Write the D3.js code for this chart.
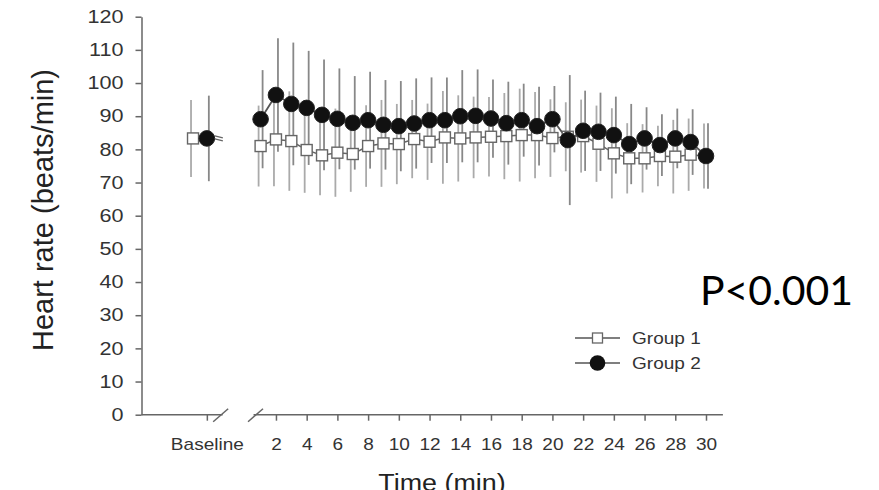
<!DOCTYPE html>
<html>
<head>
<meta charset="utf-8">
<script src="https://cdn.jsdelivr.net/npm/d3@7"></script>
<style>
    body { margin: 0; background: #fff; }
    svg { display: block; }
    .axis path, .axis line { stroke: #666; stroke-width: 1.5px; }
    .axis text { font-family: "Liberation Sans", Arial, sans-serif; font-size: 17px; fill: #333; }
</style>
</head>
<body>
<script>
    // time points (min) and group means / SD
    const times = [1, 2, 3, 4, 5, 6, 7, 8, 9, 10, 11, 12, 13, 14, 15, 16, 17, 18, 19, 20,
        21, 22, 23, 24, 25, 26, 27, 28, 29, 30];
    const group1 = [81.0, 83.0, 82.5, 79.8, 78.2, 79.0, 78.6, 81.0, 81.8, 81.6, 83.1, 82.3, 83.6, 83.3, 83.6,
        83.8, 84.0, 84.3, 84.3, 83.4, 83.8, 84.0, 81.7, 78.8, 77.3, 77.3, 78.0, 77.8, 78.4, 78.0];
    const group1SD = [12.2, 14.1, 15.0, 12.9, 12.0, 13.3, 11.4, 12.3, 13.1, 12.1, 11.8, 11.5, 14.0, 13.0, 12.3,
        12.0, 13.0, 14.0, 13.0, 11.7, 10.4, 11.0, 11.5, 13.6, 10.6, 10.3, 9.1, 11.1, 10.9, 9.8];
    const group2 = [89.1, 96.4, 93.7, 92.5, 90.4, 89.2, 88.0, 88.8, 87.4, 87.0, 87.8, 88.8, 88.8, 90.0, 90.1,
        89.3, 87.9, 88.8, 87.0, 89.1, 82.8, 85.6, 85.3, 84.3, 81.6, 83.3, 81.3, 83.3, 82.2, 78.0];
    const group2SD = [14.8, 17.1, 18.5, 17.2, 16.7, 15.2, 14.1, 14.6, 13.5, 13.6, 13.6, 12.9, 12.9, 13.9, 14.0,
        11.8, 12.5, 11.0, 11.9, 10.0, 19.6, 12.1, 11.8, 11.6, 12.1, 9.4, 9.3, 9.0, 9.9, 9.9];
    const baseline = [83.3, 83.3];
    const baselineSD = [11.6, 12.9];
    const groupNames = ["Group 1", "Group 2"];
    const xTicks = [2, 4, 6, 8, 10, 12, 14, 16, 18, 20, 22, 24, 26, 28, 30];
    const yTicks = [0, 10, 20, 30, 40, 50, 60, 70, 80, 90, 100, 110, 120];

    const W = 879, H = 490;
    const sx = 1.12; // the figure is a bit wider than tall
    const baseT = -2.5, baseT1 = -3.4; // where the baseline sits on the time scale

    const svg = d3.select("body").append("svg").attr("width", W).attr("height", H);

    const x = d3.scaleLinear().domain([1, 30]).range([260.6, 706]);
    const y = d3.scaleLinear().domain([0, 120]).range([414.7, 16.7]);
    const x0 = 141.5;

    // y axis
    const yAxis = svg.append("g").attr("class", "axis")
        .attr("transform", "translate(" + x0 + ",0)")
        .call(d3.axisLeft(y).tickValues(yTicks).tickSize(6).tickSizeOuter(0));
    yAxis.selectAll("text").style("font-size", "18px")
        .attr("x", -18 / 1.2).attr("transform", "scale(1.2,1)");

    // x axis, broken between baseline and the time course
    const xAxis = svg.append("g").attr("class", "axis")
        .attr("transform", "translate(0," + y(0) + ")")
        .call(d3.axisBottom(x).tickValues([baseT].concat(xTicks)).tickSize(6).tickPadding(17)
            .tickFormat(d => d === baseT ? "Baseline" : d));
    xAxis.select(".domain").remove();
    xAxis.selectAll(".tick text").attr("transform", "scale(" + sx + ",1)");

    const br1 = -1.6, br2 = 0.67;
    xAxis.append("line").attr("x1", x0).attr("x2", x(br1) + 2).attr("y1", 0).attr("y2", 0);
    xAxis.append("line").attr("x1", x(br2) - 2).attr("x2", x(31.1)).attr("y1", 0).attr("y2", 0);
    [br1, br2].forEach(b => {
        xAxis.append("line")
            .attr("x1", x(b) - 7.5).attr("y1", 7)
            .attr("x2", x(b) + 7.5).attr("y2", -6);
    });

    // error bars
    const g1 = times.map((t, i) => ({ t: t, v: group1[i], sd: group1SD[i] }));
    const g2 = times.map((t, i) => ({ t: t, v: group2[i], sd: group2SD[i] }));

    function bars(data, dx, color) {
        svg.append("g").selectAll("line").data(data).join("line")
            .attr("x1", d => x(d.t) + dx).attr("x2", d => x(d.t) + dx)
            .attr("y1", d => y(d.v + d.sd)).attr("y2", d => y(d.v - d.sd))
            .attr("stroke", color).attr("stroke-width", 1.8);
    }
    bars([{ t: baseT1, v: baseline[0], sd: baselineSD[0] }].concat(g1), -2, "#aaa");
    bars([{ t: baseT, v: baseline[1], sd: baselineSD[1] }].concat(g2), 2, "#888");

    // connecting lines
    const line = d3.line().x(d => x(d.t)).y(d => y(d.v));
    svg.append("path").datum(g1).attr("d", line)
        .attr("fill", "none").attr("stroke", "#666").attr("stroke-width", 1.5);
    svg.append("path").datum(g2).attr("d", line)
        .attr("fill", "none").attr("stroke", "#555").attr("stroke-width", 1.8);

    // little break mark after baseline circle
    [-1.5, 1.5].forEach(o => {
        svg.append("line")
            .attr("x1", x(baseT) + 8).attr("x2", x(baseT) + 16)
            .attr("y1", y(baseline[1]) + o - 1).attr("y2", y(baseline[1]) + o + 1)
            .attr("stroke", "#666").attr("stroke-width", 1.2);
    });

    // markers
    const sq = 11;
    svg.append("g").selectAll("rect")
        .data([{ t: baseT1, v: baseline[0] }].concat(g1)).join("rect")
        .attr("x", d => x(d.t) - sq / 2).attr("y", d => y(d.v) - sq / 2)
        .attr("width", sq).attr("height", sq)
        .attr("fill", "#fff").attr("stroke", "#666").attr("stroke-width", 1.4);
    svg.append("g").selectAll("circle")
        .data([{ t: baseT, v: baseline[1] }].concat(g2)).join("circle")
        .attr("cx", d => x(d.t)).attr("cy", d => y(d.v)).attr("r", 7.8)
        .attr("fill", "#111").attr("stroke", "#222").attr("stroke-width", 1);

    // axis titles
    svg.append("text").text("Heart rate (beats/min)")
        .attr("transform", "translate(53,210) rotate(-90)")
        .attr("text-anchor", "middle")
        .style("font-family", "Liberation Sans, Arial, sans-serif")
        .style("font-size", "29px").style("fill", "#222");
    svg.append("text").text("Time (min)")
        .attr("transform", "translate(442,491) scale(" + sx + ",1)")
        .attr("text-anchor", "middle")
        .style("font-family", "Liberation Sans, Arial, sans-serif")
        .style("font-size", "24px").style("fill", "#222");

    // legend
    const legY = [338, 363];
    const leg = svg.append("g");
    legY.forEach((ly, i) => {
        leg.append("line").attr("x1", 575).attr("x2", 620).attr("y1", ly).attr("y2", ly)
            .attr("stroke", "#555").attr("stroke-width", 1.5);
        if (i === 0) {
            leg.append("rect").attr("x", 597.5 - 5).attr("y", ly - 5).attr("width", 10).attr("height", 10)
                .attr("fill", "#fff").attr("stroke", "#666").attr("stroke-width", 1.3);
        } else {
            leg.append("circle").attr("cx", 597.5).attr("cy", ly).attr("r", 7.8).attr("fill", "#111");
        }
        leg.append("text").text(groupNames[i])
            .attr("transform", "translate(632," + (ly + 6) + ") scale(" + sx + ",1)")
            .style("font-family", "Liberation Sans, Arial, sans-serif")
            .style("font-size", "17px").style("fill", "#333");
    });

    // p value annotation
    svg.append("text").text("P<0.001")
        .attr("x", 700).attr("y", 305)
        .attr("textLength", 153).attr("lengthAdjust", "spacingAndGlyphs")
        .style("font-family", "Lato, 'Open Sans', sans-serif")
        .style("font-size", "41px").style("fill", "#000");
</script>
</body>
</html>
